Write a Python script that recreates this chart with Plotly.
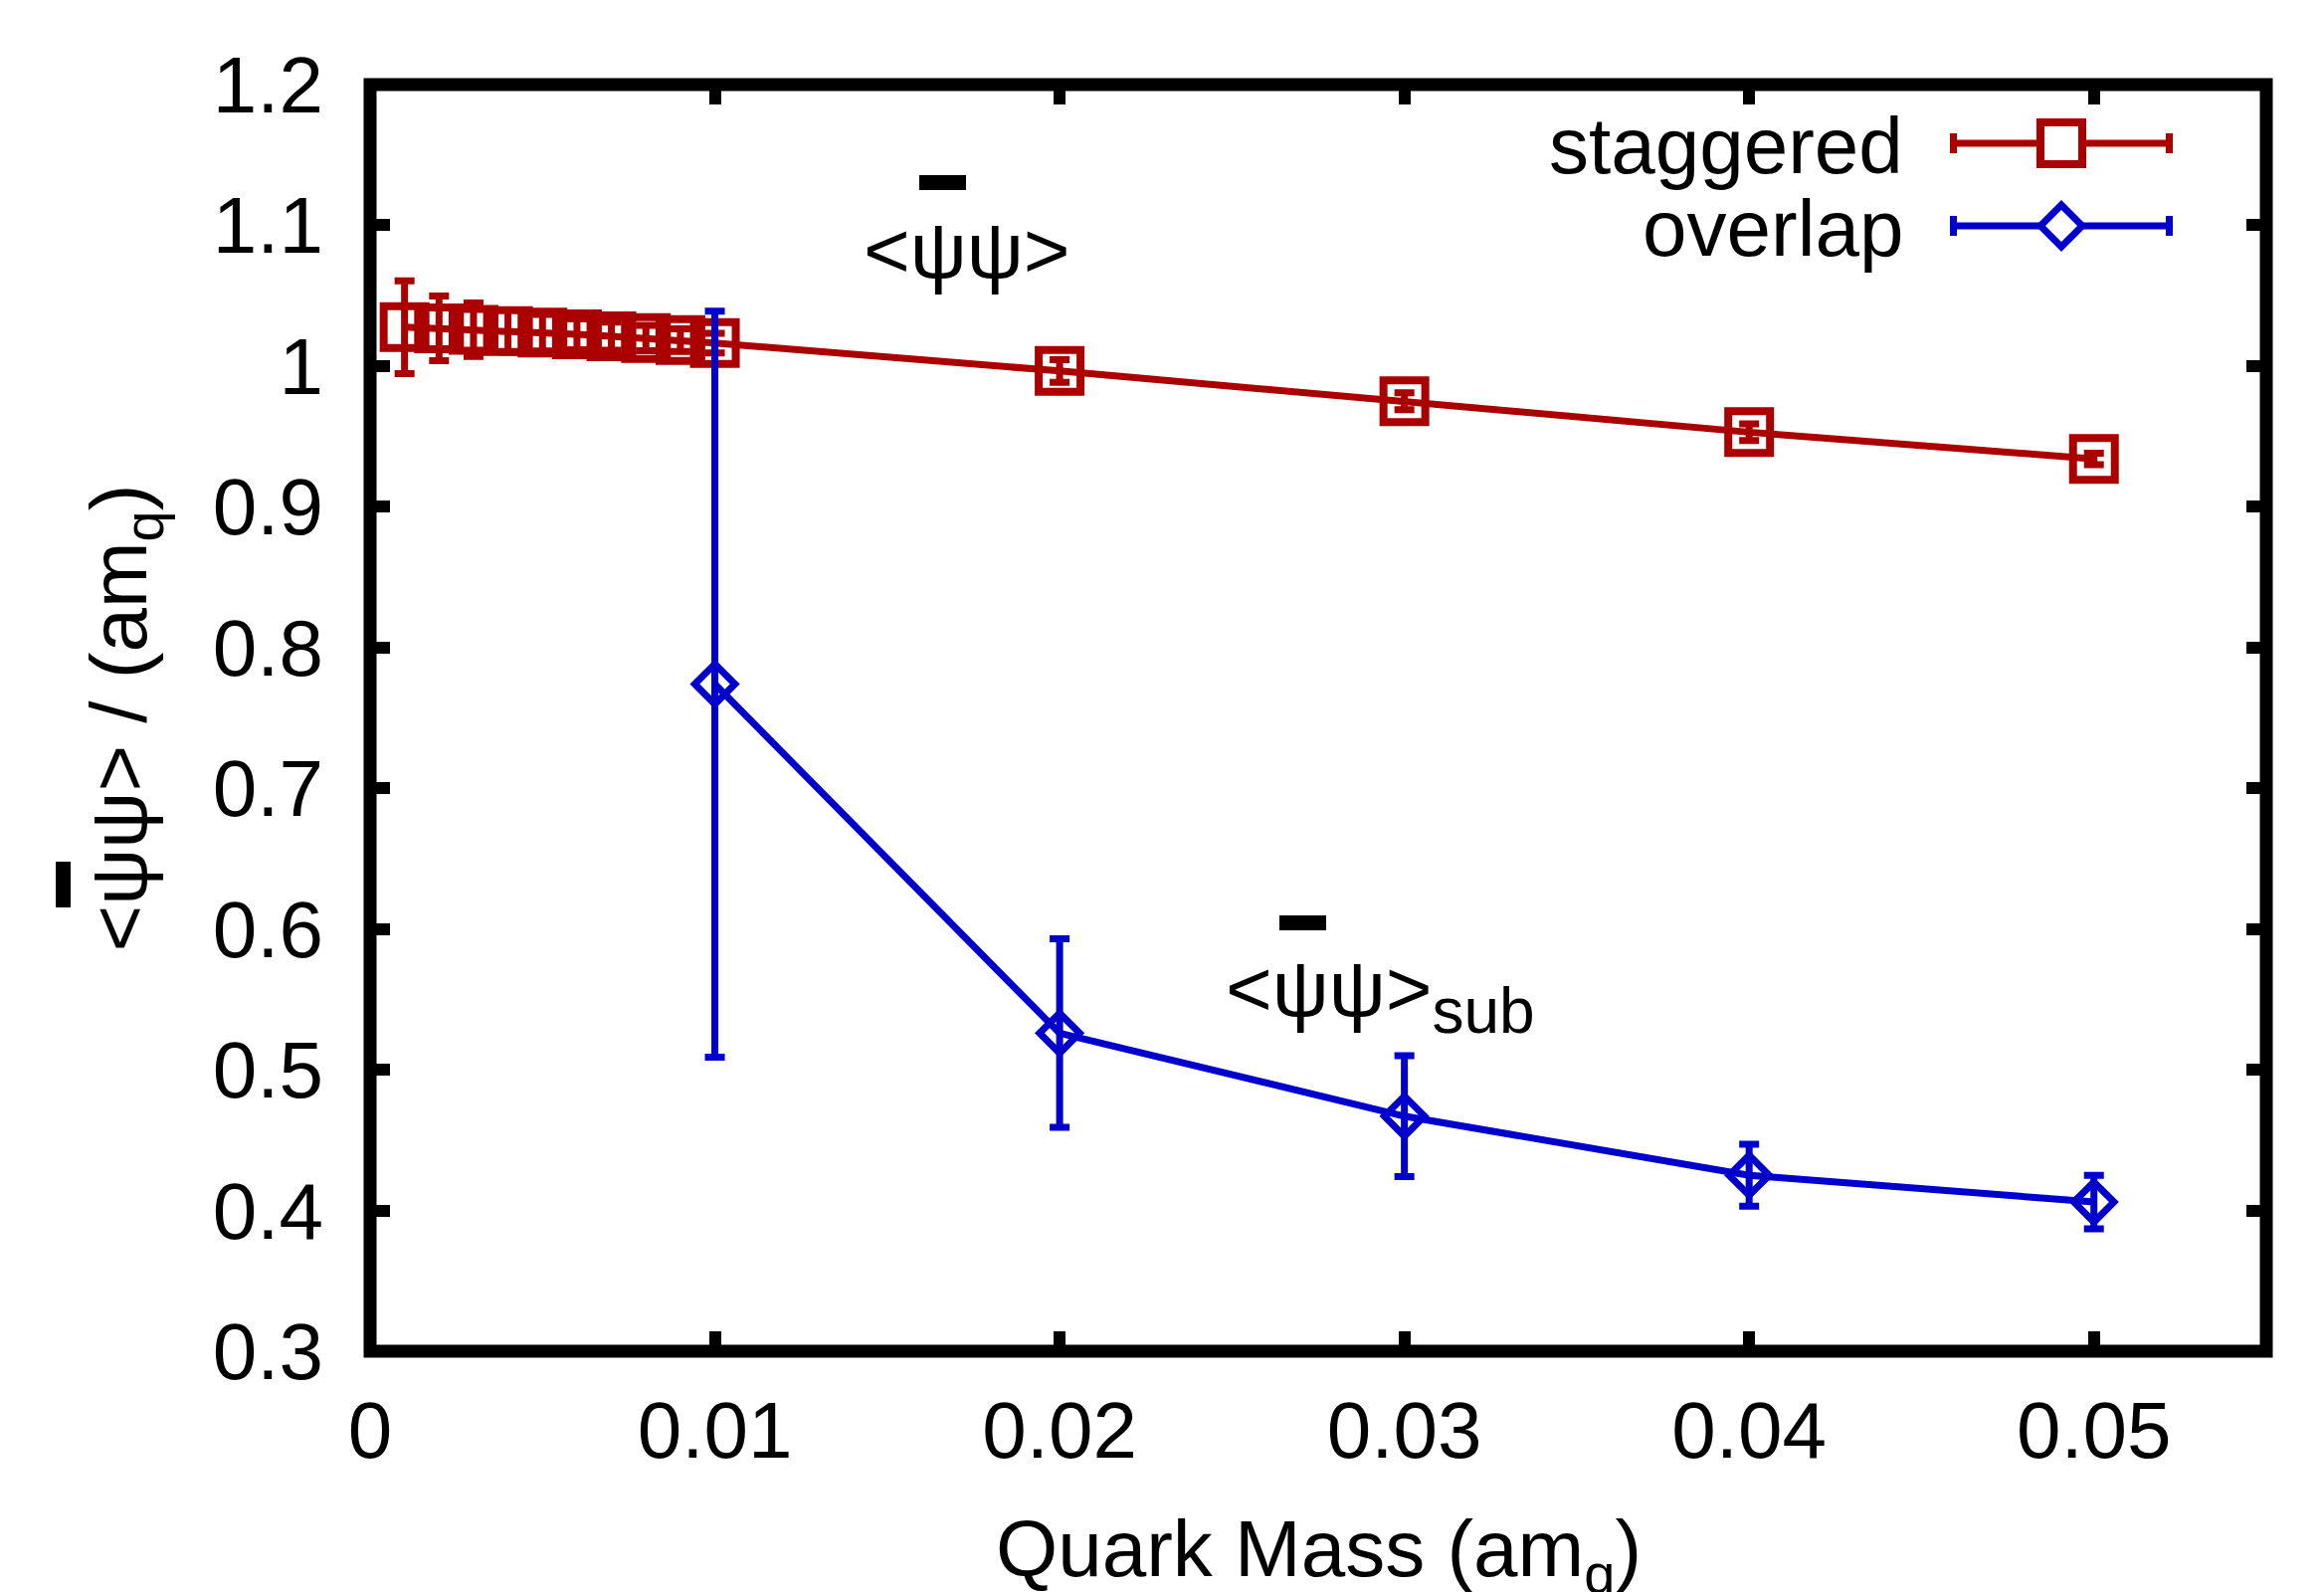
import plotly.graph_objects as go

# ---------------- data ----------------
mass_staggered = [0.001, 0.002, 0.003, 0.004, 0.005, 0.006, 0.007, 0.008, 0.009, 0.010,
                  0.02, 0.03, 0.04, 0.05]
pbp_staggered = [1.0276, 1.0268, 1.0258, 1.0248, 1.0237, 1.0225, 1.0212, 1.0199, 1.0184, 1.0163,
                 0.9965, 0.975, 0.953, 0.934]
err_staggered = [0.033, 0.023, 0.019, 0.015, 0.013, 0.011, 0.010, 0.009, 0.008, 0.007,
                 0.008, 0.006, 0.006, 0.004]

mass_overlap = [0.01, 0.02, 0.03, 0.04, 0.05]
pbp_overlap = [0.774, 0.526, 0.467, 0.425, 0.406]
err_overlap = [0.265, 0.067, 0.043, 0.022, 0.019]

x_tickvals = [0, 0.01, 0.02, 0.03, 0.04, 0.05]
x_ticktext = ["0", "0.01", "0.02", "0.03", "0.04", "0.05"]
y_tickvals = [0.3, 0.4, 0.5, 0.6, 0.7, 0.8, 0.9, 1.0, 1.1, 1.2]
y_ticktext = ["0.3", "0.4", "0.5", "0.6", "0.7", "0.8", "0.9", "1", "1.1", "1.2"]

series_names = ["staggered", "overlap"]
series_colors = ["#AA0000", "#0000CC"]

x_title = "Quark Mass (am<sub>q</sub>)"
y_title = "&lt;ψψ&gt; / (am<sub>q</sub>)"

# ---------------- layout geometry (pixels) ----------------
W, H = 2336, 1600
L, R, T, B = 372, 2278, 85, 1358
PW, PH = R - L, B - T
FONT = "Liberation Sans, Arial, Helvetica, sans-serif"
FS = 80


def px(x):
    return (x - L) / PW


def py(y):
    return (B - y) / PH


fig = go.Figure()

fig.add_trace(go.Scatter(
    x=mass_staggered, y=pbp_staggered, mode="lines+markers", name=series_names[0],
    line=dict(color=series_colors[0], width=7),
    marker=dict(symbol="square-open", size=42, color=series_colors[0],
                line=dict(width=8, color=series_colors[0])),
    error_y=dict(type="data", array=err_staggered, visible=True,
                 color=series_colors[0], thickness=7, width=10),
    showlegend=False,
))

fig.add_trace(go.Scatter(
    x=mass_overlap, y=pbp_overlap, mode="lines+markers", name=series_names[1],
    line=dict(color=series_colors[1], width=7),
    marker=dict(symbol="diamond-open", size=31, color=series_colors[1],
                line=dict(width=7, color=series_colors[1])),
    error_y=dict(type="data", array=err_overlap, visible=True,
                 color=series_colors[1], thickness=7, width=10),
    showlegend=False,
))

shapes = []
annotations = []

# plot border
shapes.append(dict(type="rect", xref="paper", yref="paper", x0=0, y0=0, x1=1, y1=1,
                   line=dict(color="black", width=13), layer="above"))

# overbars (bar over the first psi)
for (x0, y0, x1, y1) in [(924, 176, 971, 191), (1286, 920, 1333, 935), (56, 866, 71, 912)]:
    shapes.append(dict(type="rect", xref="paper", yref="paper",
                       x0=px(x0), x1=px(x1), y0=py(y1), y1=py(y0),
                       fillcolor="black", line=dict(width=0)))

# in-plot labels
annotations.append(dict(text="&lt;ψψ&gt;", xref="paper", yref="paper",
                        x=px(972), y=py(205), xanchor="center", yanchor="top",
                        showarrow=False, font=dict(family=FONT, size=FS, color="black")))
annotations.append(dict(text="&lt;ψψ&gt;<sub><span style='font-size:64px'>sub</span></sub>",
                        xref="paper", yref="paper",
                        x=px(1230), y=py(947), xanchor="left", yanchor="top",
                        showarrow=False, font=dict(family=FONT, size=FS, color="black")))

# x-axis title (placed as annotation so it can sit low in the margin like the original)
annotations.append(dict(text=x_title, xref="paper", yref="paper",
                        x=px(1325), y=py(1510), xanchor="center", yanchor="top",
                        showarrow=False, font=dict(family=FONT, size=FS, color="black")))

# custom legend (text left, sample right, as in the original)
legend_rows = [144, 227]
for i, row in enumerate(legend_rows):
    c = series_colors[i]
    annotations.append(dict(text=series_names[i], xref="paper", yref="paper",
                            x=px(1915), y=py(row + 2), xanchor="right", yanchor="middle",
                            showarrow=False, font=dict(family=FONT, size=FS, color="black")))
    shapes.append(dict(type="line", xref="paper", yref="paper",
                       x0=px(1960), x1=px(2184), y0=py(row), y1=py(row),
                       line=dict(color=c, width=7)))
    for cx in (1963.5, 2180.5):
        shapes.append(dict(type="line", xref="paper", yref="paper",
                           x0=px(cx), x1=px(cx), y0=py(row - 10), y1=py(row + 10),
                           line=dict(color=c, width=7)))
    mx = 2072
    if i == 0:
        shapes.append(dict(type="rect", xref="paper", yref="paper",
                           x0=px(mx - 21), x1=px(mx + 21), y0=py(row + 21), y1=py(row - 21),
                           fillcolor="white", line=dict(color=c, width=8)))
    else:
        d = 21
        path = "M {a},{b} L {c},{e} L {f},{b} L {c},{g} Z".format(
            a=px(mx - d), b=py(row), c=px(mx), e=py(row - d), f=px(mx + d), g=py(row + d))
        shapes.append(dict(type="path", xref="paper", yref="paper", path=path,
                           fillcolor="white", line=dict(color=c, width=7)))

axis_common = dict(
    showgrid=False, zeroline=False, showline=False,
    ticks="inside", ticklen=20, tickwidth=12, tickcolor="black", mirror="ticks",
    tickfont=dict(family=FONT, size=FS, color="black"),
    automargin=False,
)

fig.update_layout(
    width=W, height=H,
    margin=dict(l=L, r=W - R, t=T, b=H - B, pad=0),
    paper_bgcolor="white", plot_bgcolor="white",
    font=dict(family=FONT, size=FS, color="black"),
    xaxis=dict(range=[0, 0.055], tickvals=x_tickvals, ticktext=x_ticktext,
               ticklabelstandoff=26,
               **axis_common),
    yaxis=dict(range=[0.3, 1.2], tickvals=y_tickvals, ticktext=y_ticktext,
               ticklabelstandoff=46,
               title=dict(text=y_title, standoff=39,
                          font=dict(family=FONT, size=FS, color="black")),
               **axis_common),
    shapes=shapes,
    annotations=annotations,
    showlegend=False,
)

fig.write_html("out.html", config={"displayModeBar": False},
               post_script="document.body.style.margin='0';")
